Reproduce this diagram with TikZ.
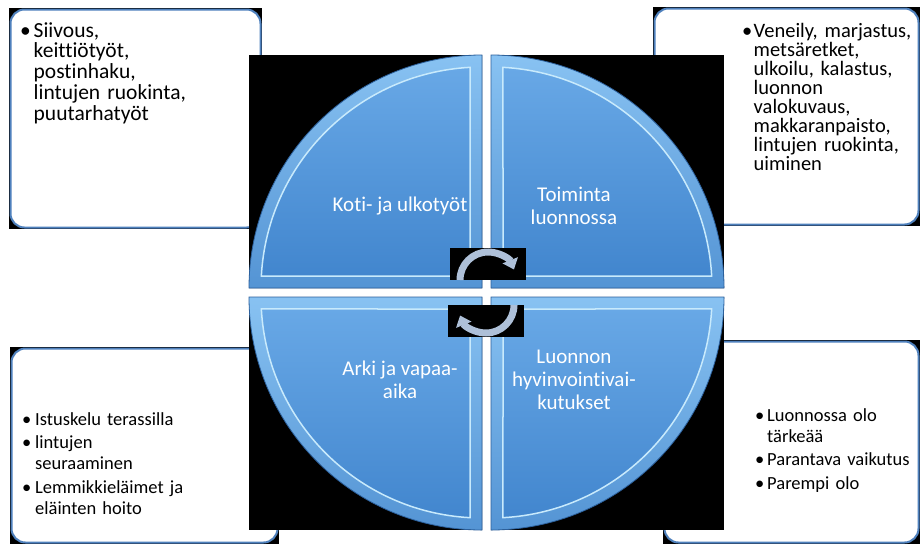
\documentclass[tikz,border=0pt]{standalone}
\usepackage{fontspec}
\setmainfont{Carlito}[Ligatures={NoCommon,NoContextual}]
\usepackage{tikz}
\definecolor{pietop}{RGB}{104,168,230}
\definecolor{piebottom}{RGB}{66,134,206}
\definecolor{rimtop}{RGB}{136,194,242}
\definecolor{rimbottom}{RGB}{84,148,212}
\definecolor{pielight}{RGB}{200,234,252}
\definecolor{pieedge}{RGB}{44,96,156}
\definecolor{boxline}{RGB}{79,129,189}
\definecolor{arrowgray}{RGB}{174,192,216}
\newlength{\bulletw}
\newcommand{\bitem}[1]{\noindent\makebox[\bulletw][l]{\textbullet}%
	\parbox[t]{200pt}{\raggedright #1\par\xdef\lastdp{\the\prevdepth}}\par\prevdepth=\lastdp\relax}

\begin{document}
\begin{tikzpicture}[x=1pt,y=-1pt]
	\usetikzlibrary{arrows.meta}
	\tikzset{
		listbox/.style={fill=white,draw=boxline,line width=2pt,rounded corners=14pt},
		pielabel/.style={white,align=center,font=\fontsize{21}{23.3}\selectfont},
		itemtext/.style={anchor=base west,inner sep=0pt,text width=#1},
		cyclearrow/.style={arrowgray,line width=7pt,-{Triangle[width=16pt,length=10pt]}}
	}
	\useasboundingbox[fill=white] (0,0) rectangle (920,544);
	
	% list boxes behind the circle
	\foreach \xa/\ya/\xb/\yb in {9/8/262/229, 653/7/920/226, 10/347/279/544, 663/340/920/544}
	{
		\fill[black] (\xa,\ya) rectangle (\xb,\yb);
		\draw[listbox] (\xa+1.5,\ya+1.5) rectangle (\xb-1.5,\yb-1.5);
	}
	
	% four quarters of the circle
	\foreach \cx/\cy/\a in {482/288/180, 491/288/270, 491/297/0, 482/297/90}
	{
		\fill[black] (\cx,\cy) rectangle ([shift={(\a+45:329.5)}]\cx,\cy);
		\fill[top color=rimtop,bottom color=rimbottom,draw=pieedge,line width=0.8pt]
			(\cx,\cy) -- ++(\a:233) arc[start angle=\a,end angle=\a+90,radius=233] -- cycle;
		\fill[top color=pietop,bottom color=piebottom,draw=pielight,line width=1.5pt]
			([shift={(\a+45:16.97)}]\cx,\cy) -- ([shift={(\a+3.11:221)}]\cx,\cy)
			arc[start angle=\a+3.11,end angle=\a+86.89,radius=221] -- cycle;
	}
	
	\node[pielabel] (koti) at (400,206) {Koti- ja ulkotyöt};
	\node[pielabel] (toiminta) at (574,206) {Toiminta\\luonnossa};
	\node[pielabel] (arki) at (400,380) {Arki ja vapaa-\\aika};
	\node[pielabel] (vaikutus) at (574,380) {Luonnon\\hyvinvointivai-\\kutukset};
	
	\node[itemtext=235pt,font=\fontsize{21.5}{20.8}\selectfont\setlength{\bulletw}{13.5pt}] (kotilista) at (20,37)
		{\bitem{Siivous,\\ keittiötyöt,\\ postinhaku,\\ lintujen ruokinta,\\ puutarhatyöt}};
	\node[itemtext=215pt,font=\fontsize{20.5}{19}\selectfont\setlength{\bulletw}{11.5pt}] (luontolista) at (742,37)
		{\bitem{Veneily, marjastus,\\ metsäretket,\\ ulkoilu, kalastus,\\ luonnon\\ valokuvaus,\\ makkaranpaisto,\\ lintujen ruokinta,\\ uiminen}};
	\node[itemtext=240pt,font=\fontsize{18.5}{21}\selectfont\setlength{\parskip}{2.5pt}\setlength{\bulletw}{13pt}] (arkilista) at (22,425)
		{\bitem{Istuskelu terassilla}\bitem{lintujen\\ seuraaminen}\bitem{Lemmikkieläimet ja\\ eläinten hoito}};
	\node[itemtext=215pt,font=\fontsize{18.5}{21}\selectfont\setlength{\parskip}{2.5pt}\setlength{\bulletw}{12pt}] (vaikutuslista) at (755,421)
		{\bitem{Luonnossa olo\\ tärkeää}\bitem{Parantava vaikutus}\bitem{Parempi olo}};
	
	% cycle arrows in the middle
	\fill[black] (450,248) rectangle (526,280);
	\fill[black] (448,305) rectangle (524,337);
	\draw[cyclearrow] ([shift={(180:28)}]488,280) arc[start angle=180,end angle=338,radius=28];
	\draw[cyclearrow] ([shift={(0:28)}]486,305) arc[start angle=0,end angle=158,radius=28];
\end{tikzpicture}
\end{document}
